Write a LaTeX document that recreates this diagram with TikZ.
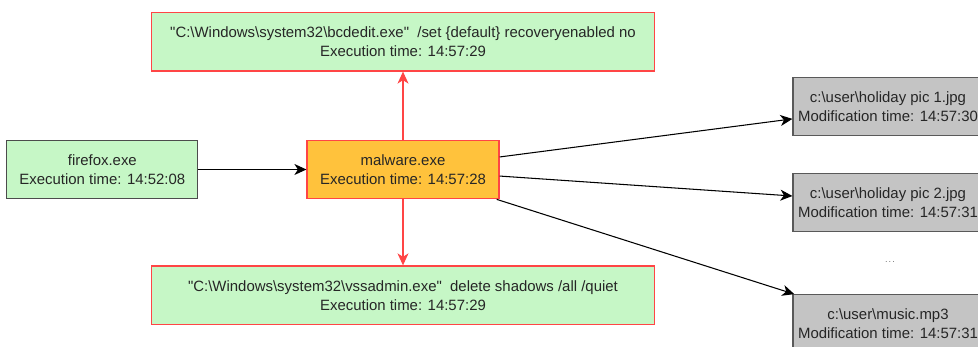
\documentclass[tikz,border=0pt]{standalone}
\usepackage{fontspec}
\newfontfamily\labelfont{Liberation Sans}
\usetikzlibrary{arrows.meta,positioning}
\definecolor{procgreen}{HTML}{C6F7C6}
\definecolor{malorange}{HTML}{FFC23C}
\definecolor{alertred}{HTML}{FF4545}
\definecolor{filegrey}{HTML}{C4C4C4}
\newcommand{\bs}{\textbackslash}

\begin{document}
\begin{tikzpicture}[x=0.02cm,y=-0.02cm,every node/.style={font=\labelfont\fontsize{8.5}{10.8}\selectfont,text=black!85,align=center,inner sep=0pt},box/.style={draw=#1,line width=0.7pt,minimum height=1.17cm},proc/.style={box=black!70,fill=procgreen,minimum width=3.82cm},mal/.style={box=alertred,fill=malorange,minimum width=3.84cm},cmd/.style={box=alertred,fill=procgreen,minimum width=10.05cm},filebox/.style={box=black!65,fill=filegrey,minimum width=3.8cm},link/.style={-{Stealth[length=2.4mm,width=2.2mm,inset=0.7mm]},line width=0.6pt,draw=#1}]
\useasboundingbox (0,0) rectangle (978,347);
\clip (0,0) rectangle (978,347);
\node[mal] (malware) at (403,169.5) {malware.exe\\Execution time: 14:57:28};
\node[proc,left=2.16cm of malware] (firefox) {firefox.exe\\Execution time: 14:52:08};
\node[cmd,above=1.36cm of malware] (bcdedit) {"C:\bs Windows\bs system32\bs bcdedit.exe"\ \ /set \{default\} recoveryenabled no\\Execution time: 14:57:29};
\node[cmd,below=1.32cm of malware] (vssadmin) {"C:\bs Windows\bs system32\bs vssadmin.exe"\ \ delete shadows /all /quiet\\Execution time: 14:57:29};
\node[filebox] (pic1) at (888,106.5) {c:\bs user\bs holiday pic 1.jpg\\Modification time: 14:57:30};
\node[filebox] (pic2) at (888,202.5) {c:\bs user\bs holiday pic 2.jpg\\Modification time: 14:57:31};
\node[filebox] (music) at (888,324) {c:\bs user\bs music.mp3\\Modification time: 14:57:31};
\node[font=\tiny,text=black!60] (more) at (890,262) {...};
\draw[link=black] (firefox) -- (malware);
\draw[link=alertred] (malware) -- (bcdedit);
\draw[link=alertred] (malware) -- (vssadmin);
\draw[link=black] (malware) -- (pic1);
\draw[link=black] (malware) -- (pic2);
\draw[link=black] (malware) -- (music);
\end{tikzpicture}
\end{document}
